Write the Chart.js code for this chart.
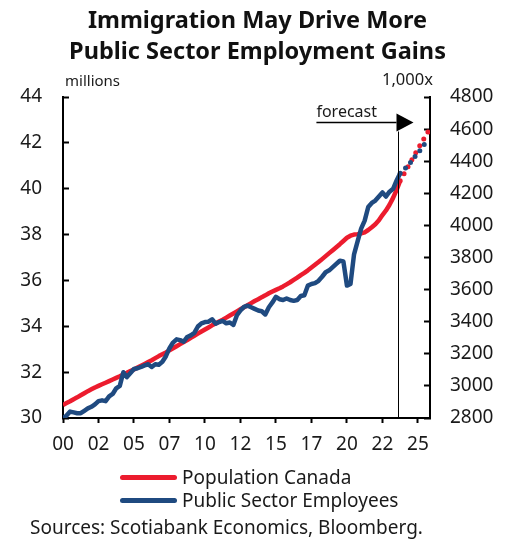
<!DOCTYPE html>
<html lang="en">
<head>
    <meta charset="UTF-8">
    <meta name="viewport" content="width=device-width, initial-scale=1.0">
    <title>Immigration May Drive More Public Sector Employment Gains</title>
    <script src="https://cdn.jsdelivr.net/npm/chart.js"></script>
    <style>
        body {
            margin: 0;
            background: #fff;
            font-family: "Noto Sans", sans-serif;
            color: #1a1a1a;
        }
        .wrap {
            position: relative;
            width: 515px;
            height: 540px;
            overflow: hidden;
        }
        .chart-box {
            position: absolute;
            left: 0;
            top: 0;
            width: 515px;
            height: 540px;
        }
        h2 {
            position: absolute;
            top: 4px;
            left: 0;
            width: 515px;
            margin: 0;
            text-align: center;
            font-size: 23.5px;
            line-height: 31px;
            font-weight: 700;
            color: #111;
        }
        .unit {
            position: absolute;
            top: 70px;
            font-size: 15px;
            line-height: 20px;
        }
        .legend {
            position: absolute;
            left: 120px;
            top: 466px;
            font-size: 19px;
            line-height: 23px;
        }
        .legend div { display: flex; align-items: center; }
        .legend span.swatch {
            display: inline-block;
            width: 57px;
            height: 5px;
            border-radius: 3px;
            margin-right: 5px;
        }
        .source {
            position: absolute;
            left: 30px;
            top: 516px;
            font-size: 19px;
            line-height: 22px;
        }
    </style>
</head>
<body>
<div class="wrap">
    <div class="chart-box"><canvas id="popChart"></canvas></div>
    <h2>Immigration May Drive More<br>Public Sector Employment Gains</h2>
    <div class="unit" style="left:65px">millions</div>
    <div class="unit" style="left:382px; font-size:16.5px; top:69px">1,000x</div>
    <div class="legend">
        <div><span class="swatch" style="background:#ec1c2e"></span>Population Canada</div>
        <div><span class="swatch" style="background:#1f4a80"></span>Public Sector Employees</div>
    </div>
    <div class="source">Sources: Scotiabank Economics, Bloomberg.</div>
</div>

<script>
    // quarterly data, 2000Q1 .. 2023Q4
    const startYear = 2000;
    const xTickLabels = ['00', '02', '05', '07', '10', '12', '15', '17', '20', '22', '25'];

    // population, millions (left axis)
    const population = [
        30.57, 30.65, 30.73, 30.82,  30.90, 30.99, 31.08, 31.17,
        31.25, 31.33, 31.40, 31.47,  31.54, 31.61, 31.68, 31.75,
        31.82, 31.90, 31.97, 32.05,  32.12, 32.20, 32.28, 32.36,
        32.44, 32.52, 32.61, 32.70,  32.78, 32.86, 32.95, 33.04,
        33.13, 33.22, 33.31, 33.40,  33.50, 33.59, 33.68, 33.77,
        33.86, 33.95, 34.04, 34.12,  34.21, 34.29, 34.38, 34.47,
        34.56, 34.65, 34.74, 34.83,  34.92, 35.01, 35.10, 35.18,
        35.27, 35.35, 35.44, 35.52,  35.59, 35.66, 35.74, 35.83,
        35.92, 36.02, 36.12, 36.23,  36.33, 36.44, 36.56, 36.68,
        36.80, 36.93, 37.06, 37.19,  37.32, 37.45, 37.58, 37.72,
        37.86, 37.95, 38.00, 38.02,  38.05, 38.10, 38.20, 38.32,
        38.45, 38.62, 38.85, 39.05,  39.30, 39.60, 39.95, 40.35
    ];
    // forecast 2023Q4 .. 2025Q4
    const populationForecast = [40.35, 40.63, 40.90, 41.18, 41.46, 41.74, 42.00, 42.27, 42.52];

    // public sector employees, thousands (right axis)
    const publicEmployees = [
        2800, 2815, 2840, 2835,  2830, 2830, 2845, 2860,
        2870, 2885, 2905, 2910,  2905, 2935, 2950, 2985,
        3000, 3085, 3055, 3080,  3105, 3110, 3118, 3128,
        3135, 3118, 3135, 3132,  3150, 3185, 3235, 3270,
        3290, 3285, 3275, 3305,  3315, 3330, 3370, 3390,
        3398, 3400, 3415, 3388,  3398, 3405, 3390, 3395,
        3380, 3440, 3470, 3492,  3500, 3490, 3480, 3470,
        3465, 3445, 3490, 3520,  3555, 3540, 3535, 3545,
        3535, 3530, 3535, 3560,  3565, 3625, 3635, 3640,
        3655, 3680, 3708, 3720,  3740, 3760, 3780, 3775,
        3625, 3635, 3820, 3900,  3980, 4030, 4115, 4140,
        4155, 4180, 4205, 4180,  4210, 4228, 4280, 4325
    ];
    const publicForecast = [4325, 4345, 4370, 4395, 4425, 4450, 4480, 4510, 4540];

    // forecast marker
    const forecastLine = 2023.6;
    const arrowFrom = 2017.85;
    const arrowLevel = 42.9;

    const red = '#ec1c2e';
    const blue = '#1f4a80';

    function toPoints(values, firstYear) {
        return values.map((v, i) => ({ x: firstYear + i / 4, y: v }));
    }
    const forecastStart = startYear + (population.length - 1) / 4;

    const forecastMarker = {
        id: 'forecastMarker',
        afterDatasetsDraw(chart) {
            const ctx = chart.ctx;
            const xs = chart.scales.x;
            const ys = chart.scales.y;
            const xLine = Math.round(xs.getPixelForValue(forecastLine)) + 0.5;
            const yArrow = Math.round(ys.getPixelForValue(arrowLevel)) + 0.5;
            const x0 = xs.getPixelForValue(arrowFrom);
            ctx.save();
            ctx.strokeStyle = '#000';
            ctx.lineWidth = 1;
            ctx.beginPath();
            ctx.moveTo(xLine, yArrow + 9);
            ctx.lineTo(xLine, chart.chartArea.bottom);
            ctx.stroke();
            ctx.lineWidth = 1.5;
            ctx.beginPath();
            ctx.moveTo(x0, yArrow);
            ctx.lineTo(xLine - 2, yArrow);
            ctx.stroke();
            ctx.fillStyle = '#000';
            ctx.beginPath();
            ctx.moveTo(xLine - 2, yArrow - 9);
            ctx.lineTo(xLine + 15, yArrow);
            ctx.lineTo(xLine - 2, yArrow + 9);
            ctx.closePath();
            ctx.fill();
            ctx.font = '16px "Noto Sans", sans-serif';
            ctx.fillStyle = '#1a1a1a';
            ctx.textBaseline = 'alphabetic';
            ctx.fillText('forecast', x0, yArrow - 6);
            ctx.restore();
        }
    };

    const tickFont = { family: '"Noto Sans", sans-serif', size: 19 };

    new Chart(document.getElementById('popChart'), {
        type: 'line',
        data: {
            datasets: [
                {
                    label: 'Public Sector Employees',
                    data: toPoints(publicEmployees, startYear),
                    yAxisID: 'y1',
                    borderColor: blue,
                    borderWidth: 4.5,
                    pointRadius: 0,
                    borderJoinStyle: 'round'
                },
                {
                    label: 'Public Sector Employees forecast',
                    data: toPoints(publicForecast, forecastStart),
                    yAxisID: 'y1',
                    borderColor: blue,
                    borderWidth: 5,
                    borderDash: [0, 7.5],
                    borderCapStyle: 'round',
                    pointRadius: 0
                },
                {
                    label: 'Population Canada',
                    data: toPoints(population, startYear),
                    yAxisID: 'y',
                    borderColor: red,
                    borderWidth: 4.5,
                    pointRadius: 0,
                    borderJoinStyle: 'round'
                },
                {
                    label: 'Population Canada forecast',
                    data: toPoints(populationForecast, forecastStart),
                    yAxisID: 'y',
                    borderColor: red,
                    borderWidth: 5,
                    borderDash: [0, 8],
                    borderCapStyle: 'round',
                    pointRadius: 0
                }
            ]
        },
        options: {
            responsive: true,
            maintainAspectRatio: false,
            animation: false,
            layout: { padding: { top: 97, left: 0, right: 0, bottom: 82 } },
            plugins: {
                legend: { display: false },
                tooltip: { enabled: false }
            },
            scales: {
                x: {
                    type: 'linear',
                    min: 2000,
                    max: 2025.85,
                    afterFit: (s) => { s.height = 40; },
                    border: { display: true, color: '#000', width: 2 },
                    grid: { drawOnChartArea: false, tickLength: 5, tickColor: '#000', tickWidth: 2 },
                    ticks: {
                        stepSize: 2.5,
                        includeBounds: false,
                        autoSkip: false,
                        maxRotation: 0,
                        padding: 10,
                        color: '#1a1a1a',
                        font: tickFont,
                        callback: (v, i) => xTickLabels[i]
                    }
                },
                y: {
                    position: 'left',
                    min: 30,
                    max: 44,
                    afterFit: (s) => { s.width = 63; },
                    border: { display: true, color: '#000', width: 2 },
                    grid: { drawOnChartArea: false, tickLength: -6, tickColor: '#000', tickWidth: 2 },
                    ticks: {
                        stepSize: 2,
                        padding: 27,
                        color: '#1a1a1a',
                        font: tickFont
                    }
                },
                y1: {
                    position: 'right',
                    min: 2800,
                    max: 4800,
                    afterFit: (s) => { s.width = 85; },
                    border: { display: true, color: '#000', width: 2 },
                    grid: { drawOnChartArea: false, tickLength: -6, tickColor: '#000', tickWidth: 2 },
                    ticks: {
                        stepSize: 200,
                        padding: 26,
                        color: '#1a1a1a',
                        font: tickFont,
                        callback: (v) => String(v)
                    }
                }
            }
        },
        plugins: [forecastMarker]
    });
</script>
</body>
</html>
